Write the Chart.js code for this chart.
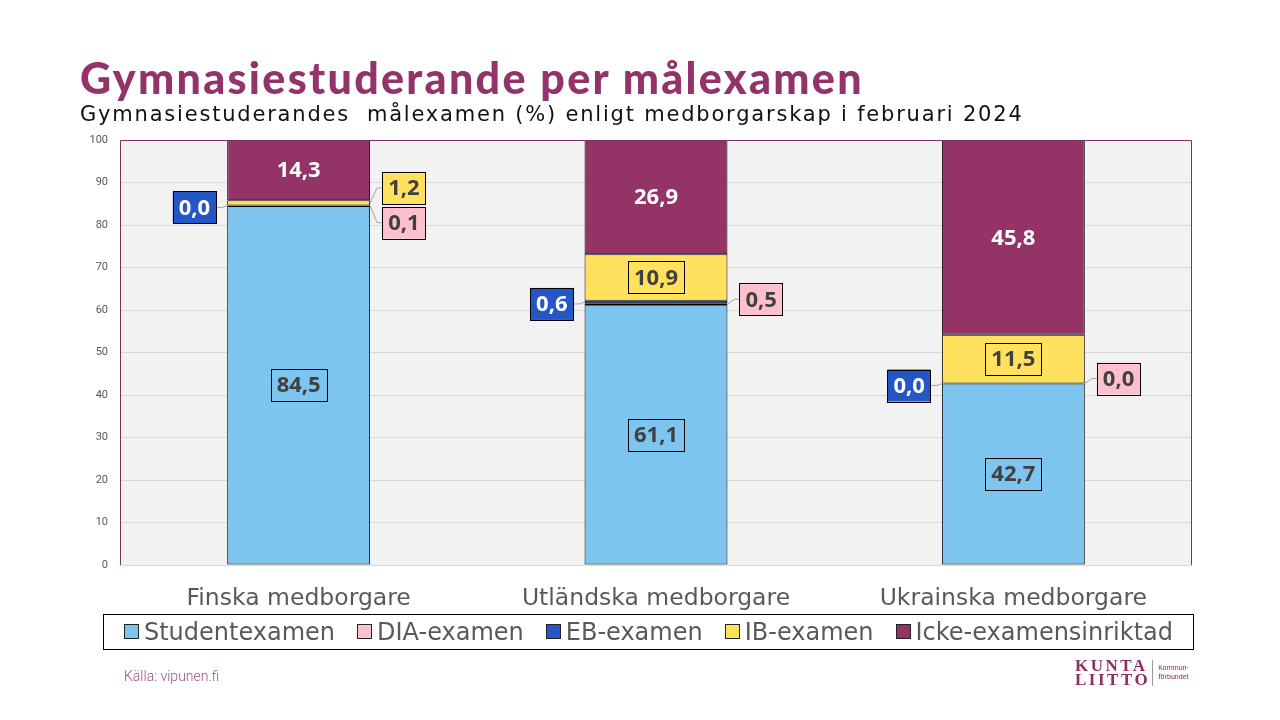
<!DOCTYPE html>
<html>
<head>
<meta charset="utf-8">
<script src="https://cdn.jsdelivr.net/npm/chart.js@4/dist/chart.umd.min.js"></script>
<style>
  body { margin: 0; background: #fff; }
  #wrap { position: relative; width: 1280px; height: 720px; overflow: hidden; }
  #chart { position: absolute; left: 0; top: 0; }
  .title { position: absolute; left: 80px; top: 52px; font-family: Lato, sans-serif; font-weight: 900; font-size: 43px; letter-spacing: 2.3px; color: #93336A; white-space: nowrap; }
  .subtitle { position: absolute; left: 80px; top: 102px; font-family: "DejaVu Sans", sans-serif; font-size: 21px; color: #111; letter-spacing: 1.8px; white-space: pre; }
  #legend { position: absolute; left: 103px; top: 614px; width: 1091px; height: 36px; box-sizing: border-box; border: 1px solid #000; display: flex; align-items: center; justify-content: center; gap: 22px; font-family: "DejaVu Sans", sans-serif; font-size: 24px; color: #595959; }
  #legend span.sw { display: inline-block; width: 13px; height: 13px; border: 1px solid #222; margin-right: 5px; vertical-align: 1px; }
  .source { position: absolute; left: 124px; top: 668px; font-family: Roboto, sans-serif; font-weight: 300; font-size: 14px; color: #9B4F85; }
  .logo { position: absolute; left: 1075px; top: 659px; display: flex; align-items: center; }
  .logo .mark { font-family: "Liberation Serif", serif; font-weight: bold; font-size: 17px; line-height: 14px; color: #8E2E64; letter-spacing: 2.5px; }
  .logo .bar { width: 1px; height: 26px; background: #999; margin: 0 5px 0 2px; }
  .logo .small { font-family: Roboto, sans-serif; font-size: 7px; line-height: 9px; color: #8E2E64; }
</style>
</head>
<body>
<div id="wrap">
  <canvas id="chart" width="1280" height="720"></canvas>
  <div class="title">Gymnasiestuderande per målexamen</div>
  <div class="subtitle">Gymnasiestuderandes  målexamen (%) enligt medborgarskap i februari 2024</div>
  <div id="legend"></div>
  <div class="source">Källa: vipunen.fi</div>
  <div class="logo"><div class="mark">KUNTA<br>LIITTO</div><div class="bar"></div><div class="small">Kommun-<br>förbundet</div></div>
</div>
<script>
// Data
const categories = ['Finska medborgare', 'Utländska medborgare', 'Ukrainska medborgare'];
const seriesNames = ['Studentexamen', 'DIA-examen', 'EB-examen', 'IB-examen', 'Icke-examensinriktad'];
const studentexamen = [84.5, 61.1, 42.7];
const diaExamen = [0.1, 0.5, 0.0];
const ebExamen = [0.0, 0.6, 0.0];
const ibExamen = [1.2, 10.9, 11.5];
const ickeExamen = [14.3, 26.9, 45.8];
const yTicks = [0, 10, 20, 30, 40, 50, 60, 70, 80, 90, 100];

const colors = ['#7DC5EE', '#FFC0CE', '#2457C5', '#FFE15E', '#933366'];
const labelText = ['#404040', '#404040', '#ffffff', '#404040', '#ffffff'];

const seriesValues = [studentexamen, diaExamen, ebExamen, ibExamen, ickeExamen];

function fmt(v) {
  return v.toFixed(1).replace('.', ',');
}

// plot background and frame
const frame = {
  id: 'frame',
  beforeDraw(chart) {
    const a = chart.chartArea;
    const ctx = chart.ctx;
    ctx.save();
    ctx.fillStyle = '#F2F2F2';
    ctx.fillRect(a.left, a.top, a.right - a.left, a.bottom - a.top);
    ctx.restore();
  },
  afterDatasetsDraw(chart) {
    const a = chart.chartArea;
    const ctx = chart.ctx;
    ctx.save();
    ctx.strokeStyle = '#7A3463';
    ctx.lineWidth = 1;
    ctx.beginPath();
    ctx.moveTo(a.left + 0.5, a.bottom);
    ctx.lineTo(a.left + 0.5, a.top + 0.5);
    ctx.lineTo(a.right - 0.5, a.top + 0.5);
    ctx.lineTo(a.right - 0.5, a.bottom);
    ctx.stroke();
    ctx.strokeStyle = '#D9D9D9';
    ctx.beginPath();
    ctx.moveTo(a.left, a.bottom + 0.5);
    ctx.lineTo(a.right, a.bottom + 0.5);
    ctx.stroke();
    ctx.restore();
  }
};

// value labels, small segments moved outside with a leader line
const valueLabels = {
  id: 'valueLabels',
  afterDatasetsDraw(chart) {
    const ctx = chart.ctx;
    ctx.save();
    ctx.font = 'bold 22px "Open Sans", sans-serif';
    ctx.textAlign = 'center';
    ctx.textBaseline = 'middle';

    function box(cx, cy, text, fill, color) {
      const w = ctx.measureText(text).width + 12;
      const h = 32;
      ctx.fillStyle = fill;
      ctx.fillRect(cx - w / 2, cy - h / 2, w, h);
      ctx.strokeStyle = '#000';
      ctx.lineWidth = 1;
      ctx.strokeRect(Math.round(cx - w / 2) + 0.5, Math.round(cy - h / 2) + 0.5, Math.round(w), h);
      ctx.fillStyle = color;
      ctx.fillText(text, cx, cy + 1);
      return w;
    }
    function leader(x1, y1, x2, y2, x3) {
      ctx.strokeStyle = '#A6A6A6';
      ctx.lineWidth = 1;
      ctx.beginPath();
      ctx.moveTo(x1, y1);
      ctx.lineTo(x2, y2);
      ctx.lineTo(x3, y2);
      ctx.stroke();
    }

    categories.forEach((c, i) => {
      const els = chart.data.datasets.map((d, di) => chart.getDatasetMeta(di).data[i]);
      const left = els[0].x - els[0].width / 2;
      const right = els[0].x + els[0].width / 2;
      const mid = el => (el.y + el.base) / 2;
      const ibOutside = ibExamen[i] < 3;

      // Studentexamen
      box(els[0].x, mid(els[0]), fmt(studentexamen[i]), colors[0], labelText[0]);

      // Icke-examensinriktad
      ctx.fillStyle = labelText[4];
      ctx.fillText(fmt(ickeExamen[i]), els[4].x, mid(els[4]) + 1);

      // IB-examen
      if (!ibOutside) {
        box(els[3].x, mid(els[3]), fmt(ibExamen[i]), colors[3], labelText[3]);
      } else {
        const t = fmt(ibExamen[i]);
        const w = ctx.measureText(t).width + 12;
        const cy = mid(els[3]) - 15;
        leader(right, mid(els[3]), right + 7, cy, right + 12);
        box(right + 12 + w / 2, cy, t, colors[3], labelText[3]);
      }

      // DIA-examen
      {
        const t = fmt(diaExamen[i]);
        const w = ctx.measureText(t).width + 12;
        const cy = mid(els[1]) + (ibOutside ? 17 : -5);
        leader(right, mid(els[1]), right + 7, cy, right + 12);
        box(right + 12 + w / 2, cy, t, colors[1], labelText[1]);
      }

      // EB-examen
      {
        const t = fmt(ebExamen[i]);
        const w = ctx.measureText(t).width + 12;
        const cy = mid(els[2]) + 2;
        leader(left, mid(els[2]), left - 5, cy, left - 11);
        box(left - 11 - w / 2, cy, t, colors[2], labelText[2]);
      }
    });
    ctx.restore();
  }
};

new Chart(document.getElementById('chart'), {
  type: 'bar',
  data: {
    labels: categories,
    datasets: seriesNames.map((name, i) => ({
      label: name,
      data: seriesValues[i],
      backgroundColor: colors[i],
      borderColor: '#000',
      borderWidth: 1,
      borderSkipped: false,
      barPercentage: 0.4,
      categoryPercentage: 1
    }))
  },
  options: {
    responsive: false,
    animation: false,
    layout: { padding: { left: 0, right: 88, top: 140, bottom: 105 } },
    plugins: {
      legend: { display: false },
      tooltip: { enabled: false }
    },
    scales: {
      x: {
        stacked: true,
        grid: { display: false },
        border: { display: false },
        ticks: {
          color: '#595959',
          padding: 12,
          font: { family: '"DejaVu Sans", sans-serif', size: 23.5 }
        },
        afterFit(s) { s.height = 50; }
      },
      y: {
        stacked: true,
        min: 0,
        max: 100,
        afterBuildTicks(s) { s.ticks = yTicks.map(v => ({ value: v })); },
        grid: { color: '#D9D9D9', drawTicks: false },
        border: { display: false },
        ticks: {
          color: '#595959',
          padding: 12,
          font: { family: 'Roboto, sans-serif', size: 11 }
        },
        afterFit(s) { s.width = 120; }
      }
    }
  },
  plugins: [frame, valueLabels]
});

// legend built from the series
const legend = document.getElementById('legend');
seriesNames.forEach((name, i) => {
  const item = document.createElement('div');
  item.innerHTML = '<span class="sw" style="background:' + colors[i] + '"></span>' + name;
  legend.appendChild(item);
});
</script>
</body>
</html>
